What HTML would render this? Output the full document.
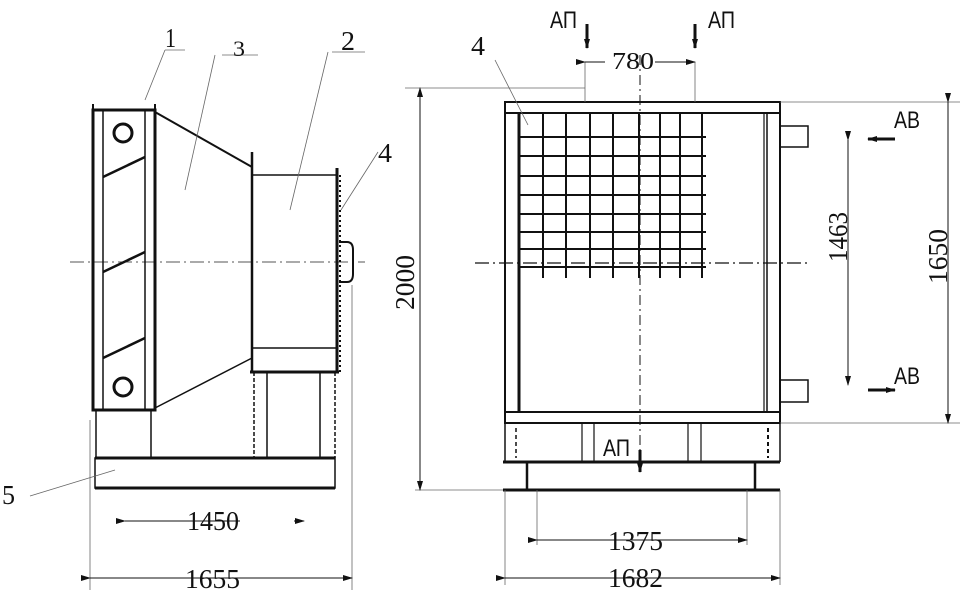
<!DOCTYPE html>
<html><head><meta charset="utf-8"><style>
html,body{margin:0;padding:0;background:#fff;}
svg{display:block}
text{font-family:"Liberation Serif","DejaVu Serif",serif;fill:#111;}
.s{font-family:"Liberation Sans","DejaVu Sans",sans-serif;}
</style></head><body>
<svg width="965" height="594" viewBox="0 0 965 594" xmlns="http://www.w3.org/2000/svg">
<defs>
<marker id="a" markerWidth="10" markerHeight="8" refX="9" refY="4" orient="auto" markerUnits="userSpaceOnUse"><path d="M0,1 L10,4 L0,7z" fill="#111"/></marker>
</defs>
<g stroke="#111" fill="none">
<line x1="70" y1="262" x2="365" y2="262" stroke-width="1" stroke-dasharray="14,4,2,4" stroke="#555"/>
<rect x="93" y="110" width="62" height="300" stroke-width="3"/>
<line x1="103" y1="110" x2="103" y2="410" stroke-width="1.5"/>
<line x1="145" y1="110" x2="145" y2="410" stroke-width="1.5"/>
<line x1="93" y1="104" x2="93" y2="115" stroke-width="2"/>
<line x1="155" y1="104" x2="155" y2="115" stroke-width="2"/>
<circle cx="123" cy="133" r="9" stroke-width="3"/>
<circle cx="123" cy="387" r="9" stroke-width="3"/>
<line x1="103" y1="177" x2="145" y2="157" stroke-width="2.5"/>
<line x1="103" y1="272" x2="145" y2="252" stroke-width="2.5"/>
<line x1="103" y1="358" x2="145" y2="338" stroke-width="2.5"/>
<line x1="155" y1="112" x2="252" y2="167" stroke-width="2"/>
<line x1="155" y1="408" x2="252" y2="358" stroke-width="1.5"/>
<line x1="252" y1="152" x2="252" y2="372" stroke-width="2.5"/>
<rect x="252" y="175" width="85" height="197" stroke-width="1.5"/>
<line x1="252" y1="348" x2="337" y2="348" stroke-width="1.5"/>
<line x1="337" y1="168" x2="337" y2="372" stroke-width="3"/>
<line x1="340" y1="175" x2="340" y2="372" stroke-width="2" stroke-dasharray="2,3"/>
<path d="M339,242 h8 q6,0 6,8 v24 q0,8 -6,8 h-8" stroke-width="2"/>
<line x1="250" y1="372" x2="339" y2="372" stroke-width="3"/>
<line x1="254" y1="372" x2="254" y2="458" stroke-width="1.5" stroke-dasharray="4,2"/>
<line x1="267" y1="372" x2="267" y2="458" stroke-width="1.5"/>
<line x1="320" y1="372" x2="320" y2="458" stroke-width="1.5"/>
<line x1="335" y1="372" x2="335" y2="458" stroke-width="1.5" stroke-dasharray="4,2"/>
<rect x="96" y="410" width="55" height="48" stroke-width="1.5"/>
<rect x="95" y="458" width="240" height="30" stroke-width="1.5"/>
<line x1="95" y1="458" x2="335" y2="458" stroke-width="3"/>
<line x1="95" y1="488" x2="335" y2="488" stroke-width="3"/>
<g stroke-width="0.8" stroke="#666">
<line x1="145" y1="100" x2="165" y2="50"/><line x1="165" y1="50" x2="185" y2="50"/>
<line x1="185" y1="190" x2="215" y2="55"/><line x1="222" y1="55" x2="258" y2="55"/>
<line x1="290" y1="210" x2="328" y2="52"/><line x1="332" y1="52" x2="365" y2="52"/>
<line x1="341" y1="210" x2="378" y2="152"/>
<line x1="30" y1="496" x2="115" y2="470"/>
<line x1="90" y1="420" x2="90" y2="590"/>
<line x1="352" y1="285" x2="352" y2="590"/>
</g>
<line x1="125" y1="521" x2="240" y2="521" stroke-width="1" marker-start="url(#a)"/>
<line x1="294" y1="521" x2="304" y2="521" stroke-width="1" marker-end="url(#a)"/>
<line x1="90" y1="578" x2="352" y2="578" stroke-width="1" marker-start="url(#a)" marker-end="url(#a)"/>

<rect x="505" y="102" width="275" height="321" stroke-width="2"/>
<line x1="505" y1="113" x2="780" y2="113" stroke-width="2"/>
<line x1="505" y1="412" x2="780" y2="412" stroke-width="2"/>
<line x1="519" y1="113" x2="519" y2="412" stroke-width="3"/>
<line x1="764" y1="113" x2="764" y2="412" stroke-width="1.2"/>
<line x1="767" y1="113" x2="767" y2="412" stroke-width="1.5"/>
<g stroke-width="2">
<line x1="543" y1="113" x2="543" y2="278"/><line x1="566" y1="113" x2="566" y2="278"/>
<line x1="590" y1="113" x2="590" y2="278"/><line x1="613" y1="113" x2="613" y2="278"/>
<line x1="639" y1="113" x2="639" y2="278"/><line x1="660" y1="113" x2="660" y2="278"/>
<line x1="680" y1="113" x2="680" y2="278"/><line x1="702" y1="113" x2="702" y2="278"/>
<line x1="519" y1="137" x2="706" y2="137"/><line x1="519" y1="156" x2="706" y2="156"/>
<line x1="519" y1="176" x2="706" y2="176"/><line x1="519" y1="195" x2="706" y2="195"/>
<line x1="519" y1="214" x2="706" y2="214"/><line x1="519" y1="232" x2="706" y2="232"/>
<line x1="519" y1="249" x2="706" y2="249"/><line x1="519" y1="267" x2="706" y2="267"/>
</g>
<line x1="475" y1="263" x2="810" y2="263" stroke-width="1.2" stroke-dasharray="14,4,2,4"/>
<line x1="640" y1="55" x2="640" y2="462" stroke-width="1" stroke-dasharray="10,4,2,4"/>
<rect x="780" y="126" width="28" height="21" stroke-width="1.5"/>
<rect x="780" y="380" width="28" height="22" stroke-width="1.5"/>
<line x1="505" y1="423" x2="505" y2="462" stroke-width="1.5"/>
<line x1="780" y1="423" x2="780" y2="462" stroke-width="1.5"/>
<line x1="516" y1="428" x2="516" y2="458" stroke-width="1.5" stroke-dasharray="4,3"/>
<line x1="582" y1="423" x2="582" y2="462" stroke-width="1.2"/>
<line x1="594" y1="423" x2="594" y2="462" stroke-width="1.2"/>
<line x1="688" y1="423" x2="688" y2="462" stroke-width="1.2"/>
<line x1="701" y1="423" x2="701" y2="462" stroke-width="1.2"/>
<line x1="768" y1="428" x2="768" y2="458" stroke-width="2" stroke-dasharray="4,3"/>
<line x1="503" y1="462" x2="780" y2="462" stroke-width="3"/>
<line x1="527" y1="462" x2="527" y2="490" stroke-width="2.5"/>
<line x1="755" y1="462" x2="755" y2="490" stroke-width="2.5"/>
<line x1="503" y1="490" x2="780" y2="490" stroke-width="3"/>
<g stroke-width="0.8" stroke="#666">
<line x1="405" y1="88" x2="585" y2="88"/>
<line x1="415" y1="490" x2="503" y2="490"/>
<line x1="780" y1="102" x2="960" y2="102"/>
<line x1="780" y1="423" x2="960" y2="423"/>
<line x1="585" y1="62" x2="585" y2="102"/>
<line x1="695" y1="62" x2="695" y2="102"/>
<line x1="537" y1="490" x2="537" y2="545"/>
<line x1="747" y1="490" x2="747" y2="545"/>
<line x1="505" y1="490" x2="505" y2="585"/>
<line x1="780" y1="490" x2="780" y2="585"/>
<line x1="495" y1="60" x2="528" y2="125"/>
</g>
<line x1="420" y1="95" x2="420" y2="88" stroke-width="1" marker-end="url(#a)"/>
<line x1="420" y1="95" x2="420" y2="483" stroke-width="1"/>
<line x1="420" y1="480" x2="420" y2="490" stroke-width="1" marker-end="url(#a)"/>
<line x1="948" y1="102" x2="948" y2="423" stroke-width="1" marker-start="url(#a)" marker-end="url(#a)"/>
<line x1="848" y1="140" x2="848" y2="385" stroke-width="1" marker-start="url(#a)" marker-end="url(#a)"/>
<line x1="585" y1="62" x2="605" y2="62" stroke-width="1" marker-start="url(#a)"/>
<line x1="655" y1="62" x2="695" y2="62" stroke-width="1" marker-end="url(#a)"/>
<line x1="537" y1="540" x2="747" y2="540" stroke-width="1" marker-start="url(#a)" marker-end="url(#a)"/>
<line x1="505" y1="578" x2="780" y2="578" stroke-width="1" marker-start="url(#a)" marker-end="url(#a)"/>
<line x1="587" y1="24" x2="587" y2="48" stroke-width="3" marker-end="url(#a)"/>
<line x1="695" y1="24" x2="695" y2="48" stroke-width="3" marker-end="url(#a)"/>
<line x1="640" y1="450" x2="640" y2="472" stroke-width="3" marker-end="url(#a)"/>
<line x1="895" y1="139" x2="868" y2="139" stroke-width="3" marker-end="url(#a)"/>
<line x1="868" y1="390" x2="895" y2="390" stroke-width="3" marker-end="url(#a)"/>
</g>
<g font-size="27">
<text x="165" y="47" textLength="11" lengthAdjust="spacingAndGlyphs">1</text>
<text x="233" y="56" font-size="22" textLength="12" lengthAdjust="spacingAndGlyphs">3</text>
<text x="341" y="50" textLength="14" lengthAdjust="spacingAndGlyphs">2</text>
<text x="378" y="162" textLength="14" lengthAdjust="spacingAndGlyphs">4</text>
<text x="2" y="504" textLength="13" lengthAdjust="spacingAndGlyphs">5</text>
<text x="471" y="55" textLength="14" lengthAdjust="spacingAndGlyphs">4</text>
<text x="187" y="530" textLength="52" lengthAdjust="spacingAndGlyphs">1450</text>
<text x="185" y="588" textLength="55" lengthAdjust="spacingAndGlyphs">1655</text>
<text x="608" y="550" textLength="55" lengthAdjust="spacingAndGlyphs">1375</text>
<text x="608" y="587" textLength="55" lengthAdjust="spacingAndGlyphs">1682</text>
<text x="612" y="69" font-size="24" textLength="42" lengthAdjust="spacingAndGlyphs">780</text>
<text transform="translate(414,310) rotate(-90)" textLength="55" lengthAdjust="spacingAndGlyphs">2000</text>
<text transform="translate(847,262) rotate(-90)" textLength="50" lengthAdjust="spacingAndGlyphs">1463</text>
<text transform="translate(947,284) rotate(-90)" textLength="55" lengthAdjust="spacingAndGlyphs">1650</text>
</g>
<g font-size="24">
<text class="s" x="550" y="28" textLength="27" lengthAdjust="spacingAndGlyphs">АП</text>
<text class="s" x="708" y="28" textLength="27" lengthAdjust="spacingAndGlyphs">АП</text>
<text class="s" x="603" y="456" textLength="27" lengthAdjust="spacingAndGlyphs">АП</text>
<text class="s" x="894" y="128" textLength="26" lengthAdjust="spacingAndGlyphs">АВ</text>
<text class="s" x="894" y="384" textLength="26" lengthAdjust="spacingAndGlyphs">АВ</text>
</g>
</svg>
</body></html>
